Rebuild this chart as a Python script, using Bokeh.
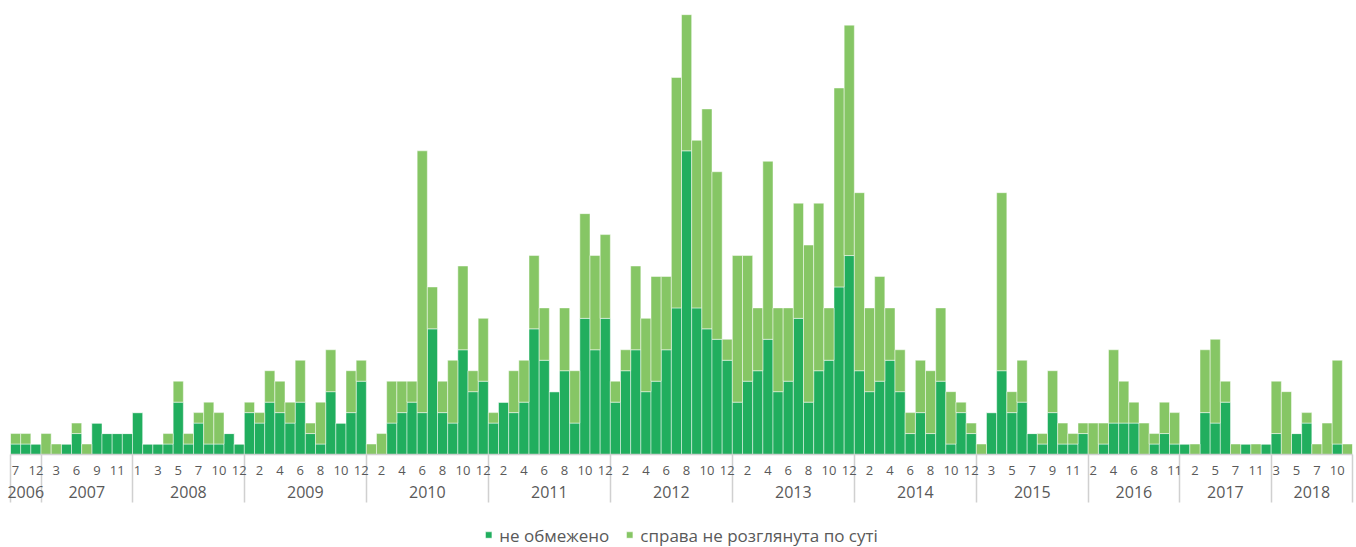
from bokeh.plotting import figure
from bokeh.layouts import column
from bokeh.models import (Range1d, LinearAxis, FixedTicker, Legend, LegendItem,
                          ColumnDataSource)
from bokeh.embed import file_html
from bokeh.resources import INLINE

# ---- data -------------------------------------------------------------
year_names = [2006, 2007, 2008, 2009, 2010, 2011, 2012, 2013, 2014, 2015, 2016, 2017, 2018]
months_by_year = {
    2006: [7, 8, 12],
    2007: [2, 3, 5, 6, 8, 9, 10, 11, 12],
    2008: [1, 2, 3, 4, 5, 6, 7, 9, 10, 11, 12],
    2009: [1, 2, 3, 4, 5, 6, 7, 8, 9, 10, 11, 12],
    2010: [1, 2, 3, 4, 5, 6, 7, 8, 9, 10, 11, 12],
    2011: [1, 2, 3, 4, 5, 6, 7, 8, 9, 10, 11, 12],
    2012: [1, 2, 3, 4, 5, 6, 7, 8, 9, 10, 11, 12],
    2013: [1, 2, 3, 4, 5, 6, 7, 8, 9, 10, 11, 12],
    2014: [1, 2, 3, 4, 5, 6, 7, 8, 9, 10, 11, 12],
    2015: [2, 3, 4, 5, 6, 7, 8, 9, 10, 11, 12],
    2016: [2, 3, 4, 5, 6, 7, 8, 10, 11],
    2017: [1, 2, 4, 5, 6, 7, 9, 11, 12],
    2018: [3, 4, 5, 6, 7, 9, 10, 11],
}
# "не обмежено"
not_limited = [
    1, 1, 1,
    0, 0, 1, 2, 0, 3, 2, 2, 2,
    4, 1, 1, 1, 5, 1, 3, 1, 1, 2, 1,
    4, 3, 5, 4, 3, 5, 2, 1, 6, 3, 4, 7,
    0, 0, 3, 4, 5, 4, 12, 4, 3, 10, 6, 7,
    3, 5, 4, 5, 12, 9, 6, 8, 3, 13, 10, 13,
    5, 8, 10, 6, 7, 10, 14, 29, 14, 12, 11, 9,
    5, 7, 8, 11, 6, 7, 13, 5, 8, 9, 16, 19,
    8, 6, 7, 9, 6, 2, 4, 2, 7, 1, 4, 2,
    0, 4, 8, 4, 5, 2, 1, 4, 1, 1, 2,
    0, 1, 3, 3, 3, 0, 1, 2, 1,
    1, 0, 4, 3, 5, 0, 1, 0, 1,
    2, 0, 2, 3, 0, 0, 1, 0,
]
# "справа не розглянута по суті"
not_considered = [
    1, 1, 0,
    2, 1, 0, 1, 1, 0, 0, 0, 0,
    0, 0, 0, 1, 2, 1, 1, 4, 3, 0, 0,
    1, 1, 3, 3, 2, 4, 1, 4, 4, 0, 4, 2,
    1, 2, 4, 3, 2, 25, 4, 3, 6, 8, 2, 6,
    1, 0, 4, 4, 7, 5, 0, 6, 5, 10, 9, 8,
    2, 2, 8, 7, 10, 7, 22, 13, 16, 21, 16, 2,
    14, 12, 6, 17, 8, 7, 11, 15, 16, 5, 19, 22,
    17, 8, 10, 5, 4, 2, 5, 6, 7, 5, 1, 1,
    1, 0, 17, 2, 4, 0, 1, 4, 2, 1, 1,
    3, 2, 7, 4, 2, 3, 1, 3, 3,
    0, 1, 6, 8, 2, 1, 0, 1, 0,
    5, 6, 0, 1, 1, 3, 8, 1,
]
series_names = ["не обмежено", "справа не розглянута по суті"]
colors = ["#21AE5E", "#86C665"]

# ---- derived positions -----------------------------------------------
months = []
bounds = [0]
year_centers = []
for y in year_names:
    ms = months_by_year[y]
    start = len(months)
    months.extend(ms)
    bounds.append(len(months))
    year_centers.append((start + len(months)) / 2.0)

n = len(months)
xs = [i + 0.5 for i in range(n)]
src = ColumnDataSource(dict(x=xs, a=not_limited, b=not_considered))

month_ticks = [i + 0.5 for i in range(0, n, 2)]
month_labels = {i + 0.5: str(months[i]) for i in range(0, n, 2)}
year_labels = {c: str(y) for c, y in zip(year_centers, year_names)}

FONT = "Open Sans"
TXT = "#595959"

# ---- main chart --------------------------------------------------------
p = figure(width=1356, height=522, output_backend="svg", toolbar_location=None,
           x_axis_type=None, y_axis_type=None,
           x_range=Range1d(0, n), y_range=Range1d(0, 42.59),
           min_border_left=10, min_border_right=4, min_border_top=8,
           min_border_bottom=68)
p.outline_line_color = None
p.background_fill_color = "white"
p.border_fill_color = "white"

rs = p.vbar_stack(["a", "b"], x="x", width=1.0, source=src, color=colors,
                  line_color="white", line_alpha=0.6, line_width=0.8)

month_axis = LinearAxis(
    ticker=FixedTicker(ticks=month_ticks, minor_ticks=bounds),
    major_label_overrides=month_labels,
    axis_line_color="#d0d0d0", axis_line_width=1.5,
    major_tick_line_color=None, major_tick_out=0, major_tick_in=0,
    minor_tick_line_color="#d0d0d0", minor_tick_line_width=1.5,
    minor_tick_out=0, minor_tick_in=-48,
    major_label_text_font=FONT, major_label_text_font_size="13px",
    major_label_text_color=TXT, major_label_standoff=11)
p.add_layout(month_axis, "below")

year_axis = LinearAxis(
    ticker=FixedTicker(ticks=year_centers),
    major_label_overrides=year_labels,
    axis_line_color=None, major_tick_line_color=None, minor_tick_line_color=None,
    major_tick_out=0, major_tick_in=0,
    major_label_text_font=FONT, major_label_text_font_size="16px",
    major_label_text_color=TXT, major_label_standoff=8)
p.add_layout(year_axis, "below")

# ---- legend strip ------------------------------------------------------
q = figure(width=1356, height=25, output_backend="svg", toolbar_location=None,
           x_axis_type=None, y_axis_type=None,
           x_range=Range1d(0, 1), y_range=Range1d(0, 1),
           min_border=0)
q.outline_line_color = None
q.background_fill_color = "white"
q.border_fill_color = "white"
# legend swatches (placed outside the visible range, only shown in the legend)
lr = [q.vbar(x=[0.5], top=[-1], bottom=[-2], width=0.1, fill_color=c,
             line_color="white", line_alpha=0.6, line_width=0.8) for c in colors]

legend = Legend(
    items=[LegendItem(label=series_names[0], renderers=[lr[0]]),
           LegendItem(label=series_names[1], renderers=[lr[1]])],
    location="center", orientation="horizontal",
    label_text_font=FONT, label_text_font_size="17px", label_text_color=TXT,
    glyph_width=8, glyph_height=8, label_standoff=7, spacing=16,
    padding=0, margin=0, border_line_color=None, background_fill_alpha=0)
q.add_layout(legend)

layout = column(p, q, spacing=0)
open("out.html", "w").write(file_html(layout, INLINE))
